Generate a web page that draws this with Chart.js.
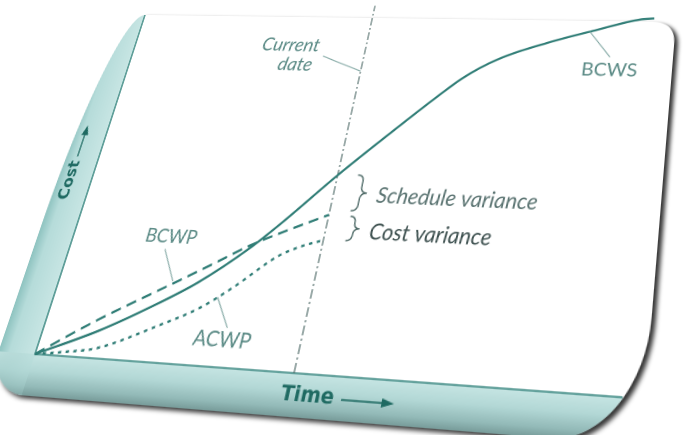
<!DOCTYPE html>
<html>
<head>
<meta charset="utf-8">
<script src="https://cdn.jsdelivr.net/npm/chart.js@4.4.1/dist/chart.umd.min.js"></script>
<style>
  html, body { margin: 0; padding: 0; background: #ffffff; overflow: hidden; }
  body { width: 685px; height: 435px; position: relative; }
  #sheet { position: absolute; left: 0; top: 0; width: 680px; height: 450px; transform-origin: 0 0; }
  #sheet canvas { display: block; }
</style>
</head>
<body>
<div id="sheet"><canvas id="ev" width="680" height="450"></canvas></div>
<script>
// Earned value curves: time (0-100) against cost (0-100)
const timeBCWS = [0, 10, 18, 25, 32.5, 37, 45, 53, 60, 64, 69.4, 77.9, 86.4, 93.7, 96.2];
const costBCWS = [0, 7, 14, 21, 30.8, 38, 52, 65, 76, 81.8, 87.4, 92.9, 97.2, 100.6, 101];

const timeBCWP = [0, 9, 17, 22, 27.5, 32.5, 37.5, 45];
const costBCWP = [0, 9.5, 17, 21.6, 26.8, 31.6, 35.5, 40.9];

const timeACWP = [0, 4.8, 10.6, 20.4, 26.5, 31.3, 37.7, 41.2, 45];
const costACWP = [0, 1.0, 2.6, 9.5, 14.5, 20.2, 29.0, 31.9, 34];

const currentDate = 45;
const dateLineTop = 104;

const seriesNames = ['BCWS', 'BCWP', 'ACWP'];
const axisTitles = { x: 'Time', y: 'Cost' };
const varianceNames = ['Schedule variance', 'Cost variance'];
const dateLabel = ['Current', 'date'];

// where the page's plotting area lands on screen (top-left, top-right, bottom-right, bottom-left)
const screenQuad = [[145, 15], [676, 22], [645, 399], [35, 354]];

const INK = '#2f7d76';
const NOTE = '#5a8a85';

function pts(xs, ys) { return xs.map((x, i) => ({ x: x, y: ys[i] })); }

// label anchors and leader lines, in chart units
const notes = [
  { text: dateLabel[0], x: 30.7, y: 90.8, font: 'italic 21px Lato', color: NOTE, align: 'center' },
  { text: dateLabel[1], x: 32.4, y: 84.6, font: 'italic 21px Lato', color: NOTE, align: 'center' },
  { text: seriesNames[0], x: 89.3, y: 85.0, font: '20px Lato', color: NOTE, align: 'center' },
  { text: seriesNames[1], x: 18.0, y: 32.8, font: '19px Lato', color: NOTE, align: 'center' },
  { text: seriesNames[2], x: 31.7, y: 6.8, font: '20px Lato', color: NOTE, align: 'center' },
  { text: varianceNames[0], x: 52.6, y: 46.7, font: 'italic 22px Lato', color: '#5b7472', align: 'left' },
  { text: varianceNames[1], x: 52.6, y: 36.8, font: 'italic 22px Lato', color: '#3e5150', align: 'left' }
];
const leaders = [
  [37.3, 87.5, 45, 83],
  [85.2, 96.6, 89.2, 88.9],
  [17.5, 29.4, 20.5, 21],
  [29.1, 17.5, 32.1, 9.9]
];
const braces = [
  { t: 48.6, top: 52.3, bottom: 42.3, tip: 50.8 },
  { t: 48.8, top: 40.8, bottom: 34.2, tip: 50.8 }
];

const BAND = 38;   // thickness of the bottom rail
const RAIL = 40;   // width of the left rail

function pagePath(ctx, a) {
  const L = a.left, T = a.top, R = a.right, B = a.bottom;
  const pl = L - RAIL, pb = B + BAND;
  ctx.beginPath();
  ctx.moveTo(L, T);
  ctx.lineTo(R - 25, T);
  ctx.quadraticCurveTo(R, T, R, T + 25);
  ctx.lineTo(R, B - 70);
  ctx.ellipse(R - 80, B - 70, 80, 70 + BAND, 0, 0, Math.PI / 2);
  ctx.lineTo(pl + 42, pb);
  ctx.arcTo(pl, pb, pl, pb - 42, 42);
  ctx.lineTo(pl, T + 250);
  ctx.ellipse(L, T + 250, RAIL, 250, 0, Math.PI, Math.PI * 1.5);
  ctx.closePath();
}

const frame = {
  id: 'frame',
  beforeDatasetsDraw(chart) {
    const { ctx, chartArea: a } = chart;
    const L = a.left, T = a.top, R = a.right, B = a.bottom;
    const pl = L - RAIL, pb = B + BAND;
    ctx.save();
    // page with its shadow
    pagePath(ctx, a);
    ctx.shadowColor = 'rgba(0,0,0,0.8)';
    ctx.shadowBlur = 8;
    ctx.shadowOffsetX = 8;
    ctx.shadowOffsetY = 5;
    ctx.fillStyle = '#ffffff';
    ctx.fill();
    ctx.shadowColor = 'transparent';
    // teal rails
    pagePath(ctx, a);
    ctx.clip();
    let g = ctx.createLinearGradient(pl, 0, L, 0);
    g.addColorStop(0, '#8ec3c0');
    g.addColorStop(0.3, '#b6dcda');
    g.addColorStop(1, '#c8e6e4');
    ctx.fillStyle = g;
    ctx.fillRect(pl, T - 5, RAIL, B - T + 5);
    g = ctx.createLinearGradient(0, B, 0, pb);
    g.addColorStop(0, '#c6e5e3');
    g.addColorStop(0.4, '#b3d8d6');
    g.addColorStop(0.78, '#93bab8');
    g.addColorStop(1, '#789c9a');
    ctx.fillStyle = g;
    ctx.fillRect(pl, B, R - pl + 5, BAND + 5);
    // corner blend
    g = ctx.createRadialGradient(L, B, 0, L, B, 52);
    g.addColorStop(0, 'rgba(190,225,223,1)');
    g.addColorStop(1, 'rgba(150,195,192,0.0)');
    ctx.fillStyle = g;
    ctx.fillRect(pl, B, RAIL, BAND);
    ctx.restore();
    // axis edges
    ctx.save();
    ctx.strokeStyle = '#3f8a84';
    ctx.lineWidth = 1.6;
    ctx.beginPath();
    ctx.moveTo(L, T);
    ctx.lineTo(L, B);
    ctx.lineTo(R - 20, B);
    ctx.stroke();
    ctx.restore();
  },
  afterDatasetsDraw(chart) {
    const { ctx, chartArea: a, scales } = chart;
    const X = v => scales.x.getPixelForValue(v);
    const Y = v => scales.y.getPixelForValue(v);
    const L = a.left, B = a.bottom;
    ctx.save();
    // leader lines
    ctx.strokeStyle = '#7da4a0';
    ctx.lineWidth = 1;
    leaders.forEach(l => {
      ctx.beginPath();
      ctx.moveTo(X(l[0]), Y(l[1]));
      ctx.lineTo(X(l[2]), Y(l[3]));
      ctx.stroke();
    });
    // variance braces
    ctx.strokeStyle = '#4e6a67';
    ctx.lineWidth = 1.4;
    braces.forEach(b => {
      const x0 = X(b.t), x1 = X(b.tip), yT = Y(b.top), yB = Y(b.bottom);
      const yM = (yT + yB) / 2, xm = (x0 + x1) / 2, r = (x1 - x0) / 2;
      ctx.beginPath();
      ctx.moveTo(x0, yT);
      ctx.quadraticCurveTo(xm, yT, xm, yT + r);
      ctx.lineTo(xm, yM - r);
      ctx.quadraticCurveTo(xm, yM, x1, yM);
      ctx.quadraticCurveTo(xm, yM, xm, yM + r);
      ctx.lineTo(xm, yB - r);
      ctx.quadraticCurveTo(xm, yB, x0, yB);
      ctx.stroke();
    });
    // labels
    ctx.textBaseline = 'middle';
    notes.forEach(n => {
      ctx.font = n.font;
      ctx.fillStyle = n.color;
      ctx.textAlign = n.align;
      ctx.fillText(n.text, X(n.x), Y(n.y));
    });
    // axis titles on the rails
    ctx.fillStyle = '#1f6a62';
    ctx.strokeStyle = '#1f6a62';
    ctx.font = 'bold 19px "DejaVu Sans"';
    ctx.textAlign = 'left';
    const ty = B + 19;
    ctx.fillText(axisTitles.x, X(43.6), ty);
    ctx.lineWidth = 1.4;
    ctx.beginPath();
    ctx.moveTo(X(53.5), ty + 1);
    ctx.lineTo(X(60.5), ty + 1);
    ctx.stroke();
    ctx.beginPath();
    ctx.moveTo(X(62), ty + 1);
    ctx.lineTo(X(60), ty - 3);
    ctx.lineTo(X(60), ty + 5);
    ctx.closePath();
    ctx.fill();

    const cx = L - 25;
    ctx.save();
    ctx.translate(cx, Y(47.5));
    ctx.rotate(-Math.PI / 2);
    ctx.font = 'bold 17px "DejaVu Sans"';
    ctx.textAlign = 'center';
    ctx.fillText(axisTitles.y, 0, 0);
    ctx.restore();
    ctx.beginPath();
    ctx.moveTo(cx, Y(54.5));
    ctx.lineTo(cx, Y(61.5));
    ctx.stroke();
    ctx.beginPath();
    ctx.moveTo(cx, Y(64));
    ctx.lineTo(cx - 4, Y(61));
    ctx.lineTo(cx + 4, Y(61));
    ctx.closePath();
    ctx.fill();
    ctx.restore();
  }
};

const chart = new Chart(document.getElementById('ev'), {
  type: 'line',
  data: {
    datasets: [
      { label: seriesNames[0], data: pts(timeBCWS, costBCWS), borderColor: INK, borderWidth: 2.4,
        cubicInterpolationMode: 'monotone', clip: false },
      { label: seriesNames[1], data: pts(timeBCWP, costBCWP), borderColor: INK, borderWidth: 2.4,
        borderDash: [10, 6], cubicInterpolationMode: 'monotone', clip: false },
      { label: seriesNames[2], data: pts(timeACWP, costACWP), borderColor: INK, borderWidth: 2.4,
        borderDash: [3.5, 4.5], cubicInterpolationMode: 'monotone', clip: false },
      { label: dateLabel.join(' '), data: [{ x: currentDate, y: 0 }, { x: currentDate, y: dateLineTop }],
        borderColor: '#56716e', borderWidth: 1.2, borderDash: [9, 3, 2, 3], clip: false }
    ]
  },
  options: {
    responsive: false,
    devicePixelRatio: 2,
    animation: false,
    layout: { padding: { left: 50, right: 30, top: 24, bottom: 60 } },
    elements: { point: { radius: 0 } },
    scales: {
      x: { type: 'linear', min: 0, max: 100, display: false },
      y: { type: 'linear', min: 0, max: 100, display: false }
    },
    plugins: { legend: { display: false }, tooltip: { enabled: false } }
  },
  plugins: [frame]
});

// tilt the sheet so its plotting area sits on screenQuad
function squareToQuad(q) {
  const [x0, y0] = q[0], [x1, y1] = q[1], [x2, y2] = q[2], [x3, y3] = q[3];
  const dx1 = x1 - x2, dx2 = x3 - x2, dx3 = x0 - x1 + x2 - x3;
  const dy1 = y1 - y2, dy2 = y3 - y2, dy3 = y0 - y1 + y2 - y3;
  const den = dx1 * dy2 - dx2 * dy1;
  const g = (dx3 * dy2 - dx2 * dy3) / den;
  const h = (dx1 * dy3 - dx3 * dy1) / den;
  return [[x1 - x0 + g * x1, x3 - x0 + h * x3, x0],
          [y1 - y0 + g * y1, y3 - y0 + h * y3, y0],
          [g, h, 1]];
}
(function tilt() {
  const a = chart.chartArea;
  const w = a.right - a.left, hgt = a.bottom - a.top;
  const M = squareToQuad(screenQuad);
  const N = [[1 / w, 0, -a.left / w], [0, 1 / hgt, -a.top / hgt], [0, 0, 1]];
  const P = [0, 1, 2].map(i => [0, 1, 2].map(j => M[i][0] * N[0][j] + M[i][1] * N[1][j] + M[i][2] * N[2][j]));
  const m = [P[0][0], P[1][0], 0, P[2][0],
             P[0][1], P[1][1], 0, P[2][1],
             0, 0, 1, 0,
             P[0][2], P[1][2], 0, P[2][2]];
  document.getElementById('sheet').style.transform = 'matrix3d(' + m.join(',') + ')';
})();
</script>
</body>
</html>
